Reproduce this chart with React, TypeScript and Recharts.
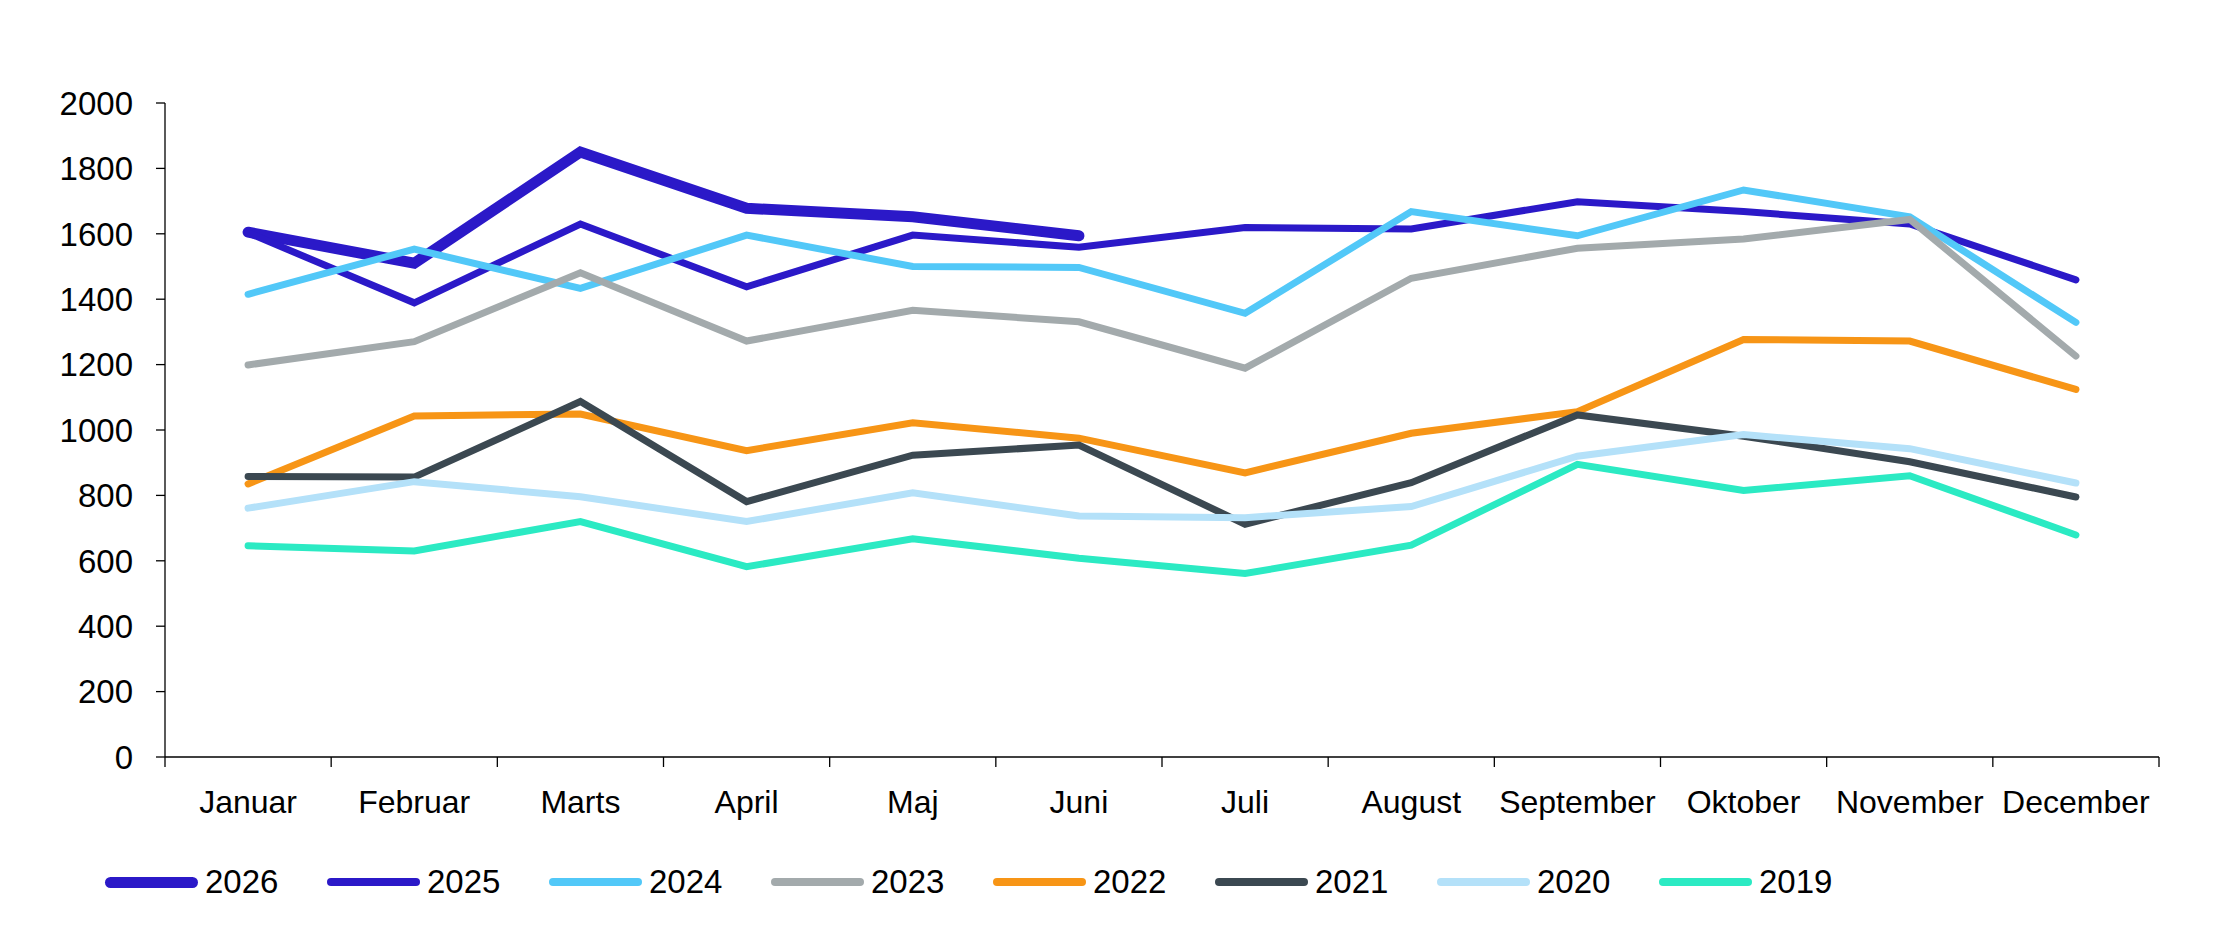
import React from 'react';
import { LineChart, Line, XAxis, YAxis, Legend } from 'recharts';

const months = ['Januar', 'Februar', 'Marts', 'April', 'Maj', 'Juni', 'Juli', 'August', 'September', 'Oktober', 'November', 'December'];
const yTicks = [0, 200, 400, 600, 800, 1000, 1200, 1400, 1600, 1800, 2000];

const y2026 = [1605, 1510, 1850, 1678, 1652, 1594, null, null, null, null, null, null];
const y2025 = [1603, 1389, 1630, 1438, 1596, 1559, 1619, 1615, 1698, 1668, 1630, 1459];
const y2024 = [1415, 1553, 1433, 1596, 1500, 1497, 1357, 1668, 1594, 1734, 1652, 1329];
const y2023 = [1199, 1270, 1481, 1272, 1366, 1331, 1189, 1464, 1556, 1584, 1644, 1226];
const y2022 = [835, 1043, 1049, 937, 1022, 975, 869, 990, 1056, 1277, 1272, 1124];
const y2021 = [858, 856, 1087, 781, 923, 954, 712, 839, 1046, 981, 903, 795];
const y2020 = [761, 842, 796, 720, 808, 737, 732, 766, 920, 986, 943, 838];
const y2019 = [646, 630, 720, 582, 667, 608, 561, 648, 895, 815, 860, 679];

const series = [
  { key: '2026', values: y2026, color: '#2B19C8', width: 11, legendWidth: 11 },
  { key: '2025', values: y2025, color: '#2B19C8', width: 7, legendWidth: 8 },
  { key: '2024', values: y2024, color: '#52C8F8', width: 7, legendWidth: 8 },
  { key: '2023', values: y2023, color: '#A3AAAC', width: 7, legendWidth: 8 },
  { key: '2022', values: y2022, color: '#F79516', width: 7, legendWidth: 8 },
  { key: '2021', values: y2021, color: '#3B4851', width: 7, legendWidth: 8 },
  { key: '2020', values: y2020, color: '#B4E1F9', width: 7, legendWidth: 8 },
  { key: '2019', values: y2019, color: '#2BEAC3', width: 7, legendWidth: 8 },
];

const data = months.map((m, i) => {
  const row: Record<string, any> = { month: m };
  series.forEach(s => { row[s.key] = s.values[i]; });
  return row;
});

const FONT = '"Liberation Sans", Arial, Helvetica, sans-serif';
const W = 2207;
const H = 926;
const MARGIN = { top: 95, right: 56, bottom: 57, left: 0 };
const Y_AXIS_W = 157;
const PLOT_W = W - MARGIN.left - MARGIN.right - Y_AXIS_W;
const X_TICK_SIZE = 10;
const X_TICK_MARGIN = 23;

const MonthTick = (props: any) => {
  const { x, y, payload } = props;
  const half = PLOT_W / months.length / 2;
  const axisY = y - X_TICK_SIZE - X_TICK_MARGIN;
  const isLast = payload.value === months[months.length - 1];
  return (
    <g>
      <line x1={x - half} x2={x - half} y1={axisY} y2={axisY + X_TICK_SIZE} stroke="#000" strokeWidth={1.3} />
      {isLast && (
        <line x1={x + half} x2={x + half} y1={axisY} y2={axisY + X_TICK_SIZE} stroke="#000" strokeWidth={1.3} />
      )}
      <text x={x} y={y} dy="0.71em" textAnchor="middle" fill="#000" fontSize={32} fontFamily={FONT}>
        {payload.value}
      </text>
    </g>
  );
};

const YearLegend = () => (
  <div style={{ display: 'flex', alignItems: 'center', height: 40, paddingLeft: 97, fontFamily: FONT }}>
    {series.map(s => (
      <div key={s.key} style={{ display: 'flex', alignItems: 'center', width: 222 }}>
        <span
          style={{
            display: 'inline-block',
            width: 93,
            height: s.legendWidth,
            borderRadius: s.legendWidth / 2,
            background: s.color,
          }}
        />
        <span style={{ marginLeft: 7, fontSize: 33, color: '#000', lineHeight: '40px' }}>{s.key}</span>
      </div>
    ))}
  </div>
);

export default function App() {
  return (
    <div style={{ width: W, height: H, background: '#fff' }}>
      <LineChart width={W} height={H} data={data} margin={MARGIN}>
        <XAxis
          dataKey="month"
          scale="point"
          padding={{ left: PLOT_W / 24, right: PLOT_W / 24 }}
          height={80}
          axisLine={{ stroke: '#000', strokeWidth: 1.3 }}
          tickLine={false}
          tickSize={X_TICK_SIZE}
          tickMargin={X_TICK_MARGIN}
          tick={<MonthTick />}
          interval={0}
        />
        <YAxis
          width={Y_AXIS_W}
          domain={[0, 2000]}
          ticks={yTicks}
          interval={0}
          axisLine={{ stroke: '#000', strokeWidth: 1.3 }}
          tickLine={{ stroke: '#000', strokeWidth: 1.3 }}
          tickSize={9}
          tickMargin={23}
          tick={{ fill: '#000', fontSize: 33, fontFamily: FONT }}
        />
        <Legend
          verticalAlign="bottom"
          content={<YearLegend />}
          wrapperStyle={{ position: 'absolute', top: 854, left: 0, width: W, height: 40 }}
        />
        {series.map(s => (
          <Line
            key={s.key}
            type="linear"
            dataKey={s.key}
            stroke={s.color}
            strokeWidth={s.width}
            strokeLinecap="round"
            dot={false}
            activeDot={false}
            isAnimationActive={false}
          />
        ))}
      </LineChart>
    </div>
  );
}
